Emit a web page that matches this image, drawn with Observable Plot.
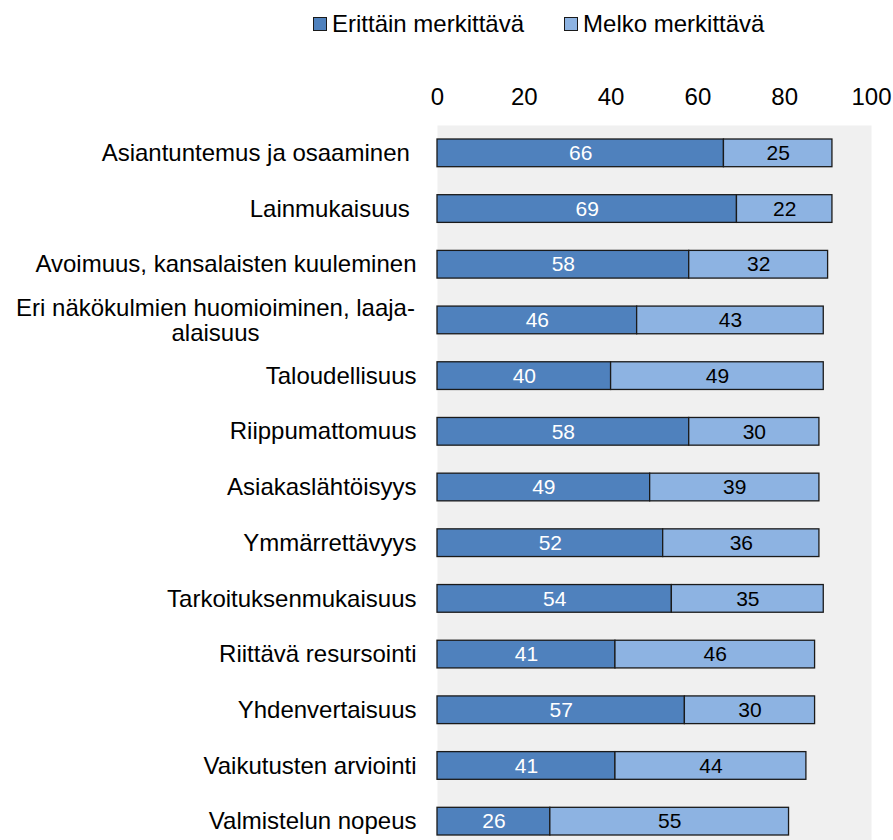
<!DOCTYPE html>
<html>
<head>
<meta charset="utf-8">
<script src="https://cdn.jsdelivr.net/npm/d3@7"></script>
<script src="https://cdn.jsdelivr.net/npm/@observablehq/plot@0.6"></script>
<style>
  html, body { margin: 0; padding: 0; background: #fff; overflow: hidden; }
  body { position: relative; width: 893px; height: 840px; font-family: "Liberation Sans", Arial, sans-serif; }
  #legend { position: absolute; top: 10px; left: 313px; display: flex; align-items: center; font-size: 24px; line-height: 28px; color: #000; }
  .item { display: flex; align-items: center; margin-right: 40px; }
  .sw { width: 12px; height: 12px; border: 1px solid #1a1a1a; margin-right: 5px; }
  #chart { position: absolute; top: 0; left: 0; width: 893px; }
</style>
</head>
<body>
<div id="legend"></div>
<div id="chart"></div>
<script>
const categories = [
  "Asiantuntemus ja osaaminen\u00a0",
  "Lainmukaisuus\u00a0",
  "Avoimuus, kansalaisten kuuleminen",
  "Eri näkökulmien huomioiminen, laaja-\nalaisuus",
  "Taloudellisuus",
  "Riippumattomuus",
  "Asiakaslähtöisyys",
  "Ymmärrettävyys",
  "Tarkoituksenmukaisuus",
  "Riittävä resursointi",
  "Yhdenvertaisuus",
  "Vaikutusten arviointi",
  "Valmistelun nopeus"
];
const erittain = [66, 69, 58, 46, 40, 58, 49, 52, 54, 41, 57, 41, 26];
const melko    = [25, 22, 32, 43, 49, 30, 39, 36, 35, 46, 30, 44, 55];
const seriesNames = ["Erittäin merkittävä", "Melko merkittävä"];
const seriesColors = ["#4f81bd", "#8db3e2"];
const labelColors = ["#ffffff", "#000000"];
const xTicks = [0, 20, 40, 60, 80, 100];

const rows = [];
categories.forEach((c, i) => {
  rows.push({cat: c, series: seriesNames[0], value: erittain[i]});
  rows.push({cat: c, series: seriesNames[1], value: melko[i]});
});

// legend
const legend = document.getElementById("legend");
seriesNames.forEach((s, i) => {
  const it = document.createElement("div");
  it.className = "item";
  const sw = document.createElement("div");
  sw.className = "sw";
  sw.style.background = seriesColors[i];
  const t = document.createElement("span");
  t.textContent = s;
  it.appendChild(sw); it.appendChild(t);
  legend.appendChild(it);
});

const singleLine = categories.filter(c => !c.includes("\n"));
const multiLine = categories.filter(c => c.includes("\n"));

const stackOpts = {x: "value", y: "cat", z: "series", order: seriesNames};
const labelFor = s => d => (d.series === s ? String(d.value) : "");

const chart = Plot.plot({
  width: 893,
  height: 849,
  marginTop: 125,
  marginBottom: 0,
  marginLeft: 437,
  marginRight: 22,
  style: {fontFamily: "Liberation Sans, Arial, sans-serif", background: "transparent"},
  x: {domain: [0, 100], axis: null},
  y: {domain: categories, padding: 0, round: false, axis: null},
  color: {domain: seriesNames, range: seriesColors},
  marks: [
    Plot.frame({fill: "#f0f0f0", stroke: null}),
    Plot.axisX({anchor: "top", ticks: xTicks, tickSize: 0, tickPadding: 21, fontSize: 24, label: null, tickFormat: d => String(d), fill: "#000"}),
    Plot.barX(rows, Plot.stackX({...stackOpts, fill: "series", stroke: "#1a1a1a", strokeWidth: 1.3, insetTop: 14, insetBottom: 14})),
    Plot.text(rows, Plot.stackX({...stackOpts, text: labelFor(seriesNames[0]), fill: labelColors[0], fontSize: 21})),
    Plot.text(rows, Plot.stackX({...stackOpts, text: labelFor(seriesNames[1]), fill: labelColors[1], fontSize: 21})),
    Plot.text(singleLine, {y: d => d, text: d => d, frameAnchor: "left", textAnchor: "end", dx: -21, fontSize: 24, fill: "#000"}),
    Plot.text(multiLine, {y: d => d, text: d => d, frameAnchor: "left", textAnchor: "middle", dx: -222, fontSize: 24, lineHeight: 1.05, fill: "#000"})
  ]
});
document.getElementById("chart").appendChild(chart);
</script>
</body>
</html>
